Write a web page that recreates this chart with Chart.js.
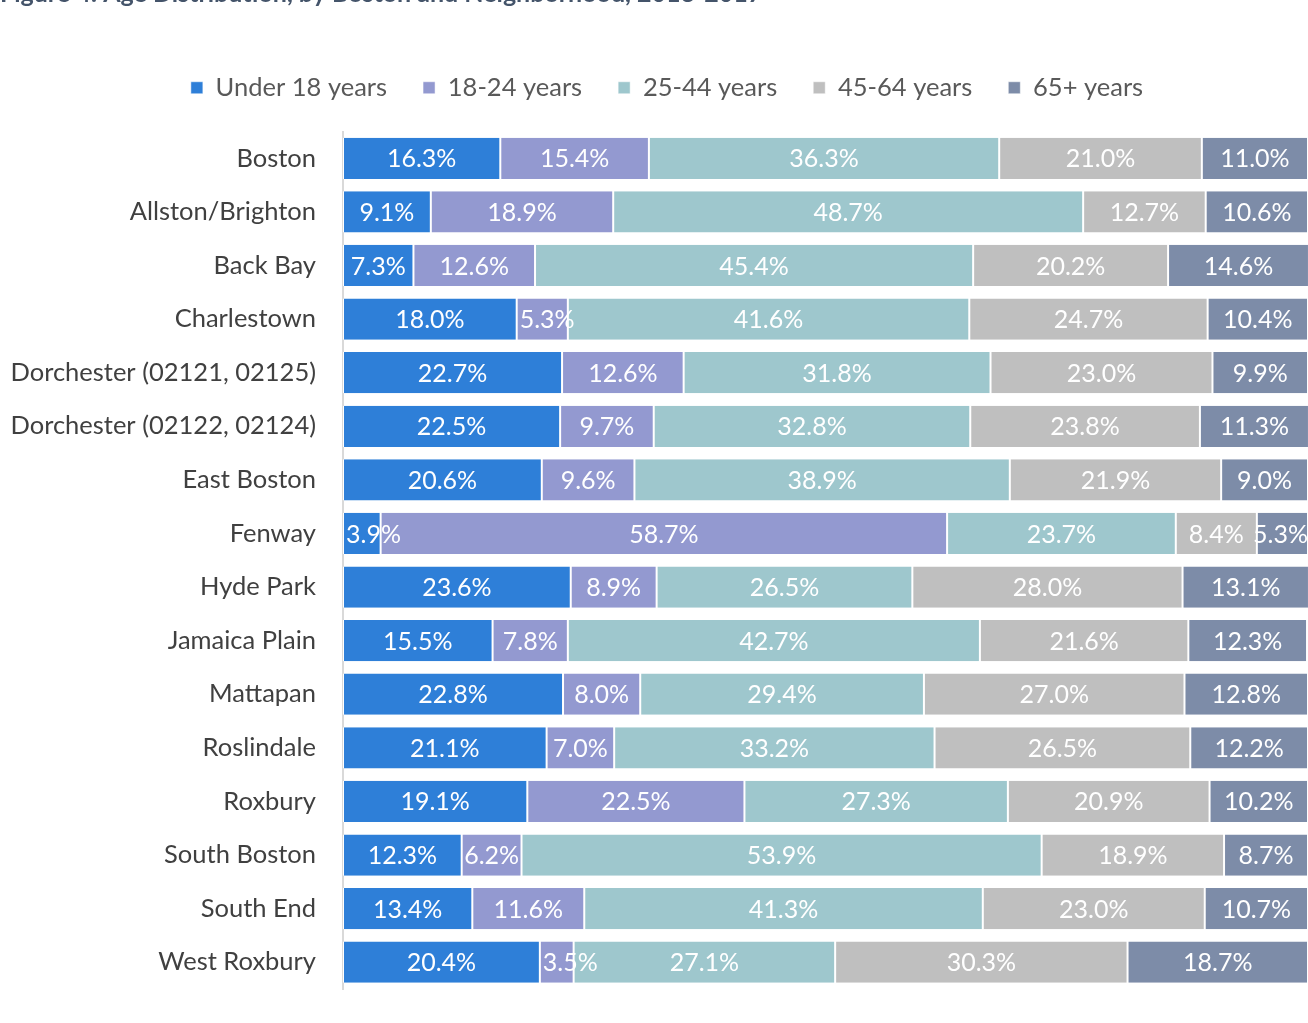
<!DOCTYPE html>
<html>
<head>
<meta charset="utf-8">
<script src="https://cdn.jsdelivr.net/npm/chart.js@4.4.1/dist/chart.umd.min.js"></script>
<style>
  body { margin: 0; background: #fff; }
  #wrap { width: 1308px; height: 1023px; }
</style>
</head>
<body>
<div id="wrap"><canvas id="chart" width="1308" height="1023"></canvas></div>
<script>
// Age distribution (%) by neighborhood
var neighborhoods = ["Boston", "Allston/Brighton", "Back Bay", "Charlestown",
    "Dorchester (02121, 02125)", "Dorchester (02122, 02124)", "East Boston", "Fenway",
    "Hyde Park", "Jamaica Plain", "Mattapan", "Roslindale", "Roxbury",
    "South Boston", "South End", "West Roxbury"];

var under18 = [16.3, 9.1, 7.3, 18.0, 22.7, 22.5, 20.6, 3.9, 23.6, 15.5, 22.8, 21.1, 19.1, 12.3, 13.4, 20.4];
var age18to24 = [15.4, 18.9, 12.6, 5.3, 12.6, 9.7, 9.6, 58.7, 8.9, 7.8, 8.0, 7.0, 22.5, 6.2, 11.6, 3.5];
var age25to44 = [36.3, 48.7, 45.4, 41.6, 31.8, 32.8, 38.9, 23.7, 26.5, 42.7, 29.4, 33.2, 27.3, 53.9, 41.3, 27.1];
var age45to64 = [21.0, 12.7, 20.2, 24.7, 23.0, 23.8, 21.9, 8.4, 28.0, 21.6, 27.0, 26.5, 20.9, 18.9, 23.0, 30.3];
var age65plus = [11.0, 10.6, 14.6, 10.4, 9.9, 11.3, 9.0, 5.3, 13.1, 12.3, 12.8, 12.2, 10.2, 8.7, 10.7, 18.7];

var seriesNames = ["Under 18 years", "18-24 years", "25-44 years", "45-64 years", "65+ years"];
var titleText = "Figure 4: Age Distribution, by Boston and Neighborhood, 2013-2017";

var FONT = "Lato, 'Open Sans', sans-serif";

function makeSet(label, values, color) {
    return {
        label: label,
        data: values,
        backgroundColor: color,
        borderColor: "#ffffff",
        borderWidth: {left: 1, right: 1, top: 0, bottom: 0},
        borderSkipped: false,
        barPercentage: 0.77,
        categoryPercentage: 1.0
    };
}

// draw value labels in the middle of every bar
// (labels wider than their bar start at the bar's left edge, kept inside the plot)
var valueLabels = {
    id: "valueLabels",
    afterDatasetsDraw: function(chart) {
        var ctx = chart.ctx;
        var area = chart.chartArea;
        ctx.save();
        ctx.font = "25px " + FONT;
        ctx.fillStyle = "#ffffff";
        ctx.textAlign = "left";
        ctx.textBaseline = "middle";
        chart.data.datasets.forEach(function(ds, i) {
            chart.getDatasetMeta(i).data.forEach(function(bar, j) {
                var txt = ds.data[j].toFixed(1) + "%";
                var w = ctx.measureText(txt).width;
                var left = Math.min(bar.x, bar.base);
                var barW = Math.abs(bar.x - bar.base);
                var x;
                if (w > barW - 4) {
                    x = left + 3;
                    if (x + w > area.right) x = area.right - w;
                } else {
                    x = left + (barW - w) / 2;
                }
                ctx.fillText(txt, x, bar.y + 1);
            });
        });
        ctx.restore();
    }
};

// figure caption, cut off at the top of the page
var caption = {
    id: "caption",
    afterDraw: function(chart) {
        var ctx = chart.ctx;
        ctx.save();
        ctx.font = "bold 25px " + FONT;
        ctx.fillStyle = "#44546a";
        ctx.textAlign = "left";
        ctx.textBaseline = "alphabetic";
        ctx.fillText(titleText, 0, 2);
        ctx.restore();
    }
};

// extra room under the legend, and nudge it a bit to the right
var legendGap = {
    id: "legendGap",
    beforeInit: function(chart) {
        var fit = chart.legend.fit;
        chart.legend.fit = function() {
            fit.bind(chart.legend)();
            this.height += 21;
        };
    },
    afterLayout: function(chart) {
        chart.legend.left += 13;
        chart.legend.right += 13;
    }
};

var ctx = document.getElementById("chart").getContext("2d");
var chart = new Chart(ctx, {
    type: "bar",
    data: {
        labels: neighborhoods,
        datasets: [
            makeSet(seriesNames[0], under18, "#2e7fd8"),
            makeSet(seriesNames[1], age18to24, "#9399d0"),
            makeSet(seriesNames[2], age25to44, "#9ec7cd"),
            makeSet(seriesNames[3], age45to64, "#bfbfbf"),
            makeSet(seriesNames[4], age65plus, "#7d8ca8")
        ]
    },
    options: {
        indexAxis: "y",
        responsive: false,
        animation: false,
        layout: { padding: { top: 39, bottom: 34, left: 0, right: 0 } },
        plugins: {
            tooltip: { enabled: false },
            legend: {
                position: "top",
                labels: {
                    font: { family: FONT, size: 25.5 },
                    color: "#595959",
                    boxWidth: 12,
                    boxHeight: 12,
                    padding: 36
                }
            }
        },
        scales: {
            x: {
                stacked: true,
                display: false,
                min: 0,
                max: 100
            },
            y: {
                stacked: true,
                grid: { display: false, drawTicks: false },
                border: { display: true, color: "#d9d9d9", width: 2 },
                ticks: {
                    font: { family: FONT, size: 25.5 },
                    color: "#404040",
                    padding: 27,
                    crossAlign: "near"
                },
                afterFit: function(scale) {
                    scale.width = 343;
                    scale.paddingTop = 0;
                    scale.paddingBottom = 0;
                }
            }
        }
    },
    plugins: [valueLabels, caption, legendGap]
});
</script>
</body>
</html>
